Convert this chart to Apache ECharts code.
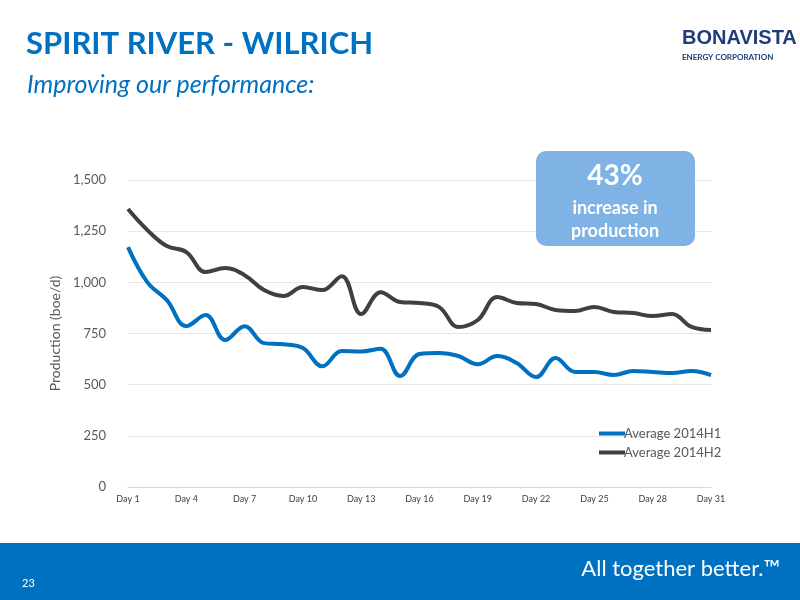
<!DOCTYPE html>
<html><head><meta charset="utf-8">
<script src="https://cdn.jsdelivr.net/npm/echarts@6/dist/echarts.min.js"></script>
<style>html,body{margin:0;padding:0;background:#fff}#c{width:800px;height:600px}</style>
</head><body><div id="c"></div>
<script>
var days = [];
for (var i = 1; i <= 31; i++) days.push('Day ' + i);
var h1 = [1172,1000,913,786,840,718,786,703,698,679,590,664,662,675,542,650,655,640,600,640,606,537,630,562,562,547,567,562,557,567,547];
var h2 = [1358,1255,1177,1148,1050,1070,1035,962,933,977,962,1030,845,952,904,899,880,782,816,928,899,894,865,860,880,855,850,835,845,782,767];
var yTicks = [0,250,500,750,1000,1250,1500];

var c = echarts.init(document.getElementById('c'));
var font = 'Lato, "Open Sans", sans-serif';
c.setOption({
  animation:false,
  grid:{left:128,right:89,top:180,bottom:113,containLabel:false},
  legend:{orient:'vertical',left:594,top:422,itemGap:6,itemWidth:26,itemHeight:4,
    icon:'rect',textStyle:{color:'#595959',fontSize:13,fontFamily:font,padding:[0,0,0,-6]},
    data:['Average 2014H1','Average 2014H2']},
  xAxis:{type:'category',boundaryGap:false,data:days,
    axisLine:{lineStyle:{color:'#d9d9d9'}},axisTick:{show:false},
    axisLabel:{color:'#404040',fontSize:9,fontFamily:font,margin:8,
      interval:function(i){return i%3===0;}}},
  yAxis:{type:'value',min:0,max:1500,interval:250,
    name:'Production (boe/d)',nameLocation:'middle',nameGap:60,
    nameTextStyle:{color:'#595959',fontSize:14,fontFamily:font},
    axisLine:{show:false},axisTick:{show:false},
    splitLine:{lineStyle:{color:'#e6e6e6'}},
    axisLabel:{color:'#595959',fontSize:13,fontFamily:font,margin:22,
      formatter:function(v){return yTicks.indexOf(v)>=0?v.toLocaleString('en-US'):'';}}},
  series:[
    {name:'Average 2014H1',type:'line',data:h1,smooth:0.4,symbol:'none',
      lineStyle:{width:4,color:'#0070c0'},itemStyle:{color:'#0070c0'}},
    {name:'Average 2014H2',type:'line',data:h2,smooth:0.4,symbol:'none',
      lineStyle:{width:4,color:'#404040'},itemStyle:{color:'#404040'}}
  ],
  graphic:[
    {type:'text',left:26,top:28,style:{text:'SPIRIT RIVER - WILRICH',fill:'#0070c0',font:'bold 31px '+font}},
    {type:'text',left:27,top:72,style:{text:'Improving our performance:',fill:'#0070c0',font:'italic 25px '+font}},
    {type:'text',left:682,top:28,style:{text:'BONAVISTA',fill:'#1f3d7a',font:'bold 20px "Liberation Sans Narrow", sans-serif'}},
    {type:'text',left:682,top:53,style:{text:'ENERGY CORPORATION',fill:'#1f3d7a',font:'bold 8px '+font}},
    {type:'rect',z:100,shape:{x:536,y:151,width:159,height:95,r:10},style:{fill:'#7fb2e5'}},
    {type:'text',z:101,x:615,y:176,style:{text:'43%',fill:'#fff',font:'bold 28px '+font,align:'center',verticalAlign:'middle'}},
    {type:'text',z:101,x:615,y:208,style:{text:'increase in',fill:'#fff',font:'bold 18px '+font,align:'center',verticalAlign:'middle'}},
    {type:'text',z:101,x:615,y:231,style:{text:'production',fill:'#fff',font:'bold 18px '+font,align:'center',verticalAlign:'middle'}},
    {type:'rect',shape:{x:0,y:543,width:800,height:57},style:{fill:'#0070c0'}},
    {type:'text',left:22,top:578,style:{text:'23',fill:'#fff',font:'11px '+font}},
    {type:'text',right:20,top:558,style:{text:'All together better.™',fill:'#fff',font:'22px '+font}}
  ]
});
</script></body></html>
